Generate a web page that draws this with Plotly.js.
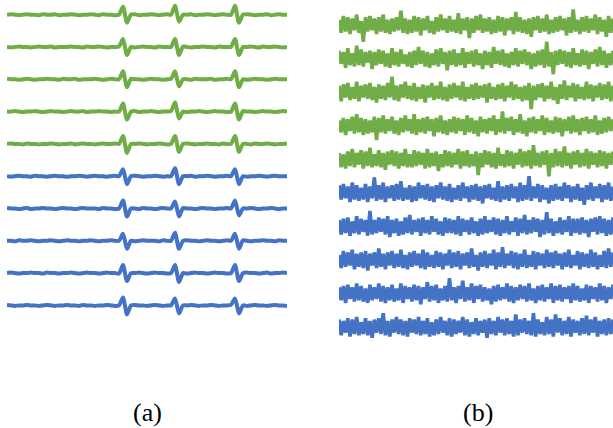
<!DOCTYPE html>
<html>
<head>
<meta charset="utf-8">
<script src="https://cdn.plot.ly/plotly-3.0.1.min.js"></script>
<style>html,body{margin:0;padding:0;background:#fff;}#chart{width:613px;height:428px;}</style>
</head>
<body>
<div id="chart"></div>
<script>
// Panel (a): 10 channels, green (first 5) and blue (last 5); values in px, positive = up
const gA1 = [0,.5,0,-.5,0,.5,0,0,-.5,.5,0,0,.5,-.5,0,0,.5,0,-.5,0,0,.5,0,-.5,.5,0,0,-.5,0, 8,-8, 0,.5,-.5,0,0,.5,0,-.5,0,.5,0, 9,-7, 0,0,.5,-.5,0,0,.5,0,-.5,0,.5,0,0, 9,-8, 0,.5,0,-.5,0,0,.5,-.5,0,.5,0,0];
const gA2 = [0,-.5,0,.5,0,0,-.5,0,.5,0,0,.5,-.5,0,0,0,.5,0,0,-.5,.5,0,0,.5,0,-.5,0,0,.5, 8,-8, 0,-.5,0,.5,0,0,-.5,.5,0,0,0, 8,-8, .5,0,-.5,0,0,.5,0,0,-.5,.5,0,0,0, 8,-8, 0,0,.5,0,-.5,.5,0,0,.5,0,-.5,0];
const gA3 = [.5,0,0,-.5,0,.5,0,-.5,0,0,.5,0,0,-.5,.5,0,0,.5,-.5,0,0,0,.5,0,-.5,0,.5,0,0, 8,-8, .5,0,0,-.5,0,.5,0,0,-.5,0,.5, 8,-7, 0,0,-.5,.5,0,0,0,.5,-.5,0,0,.5,0, 8,-8, 0,-.5,0,.5,0,0,-.5,0,.5,0,0,0];
const gA4 = [0,0,.5,0,-.5,0,0,.5,0,-.5,0,.5,0,0,-.5,0,.5,0,0,.5,-.5,0,0,.5,0,0,-.5,0,0, 8,-8, 0,.5,-.5,0,0,.5,0,-.5,0,0,.5, 9,-7, 0,-.5,0,0,.5,0,-.5,0,.5,0,0,-.5,0, 8,-8, .5,0,0,-.5,0,.5,0,0,-.5,0,.5,0];
const gA5 = [0,.5,0,0,-.5,.5,0,0,-.5,0,0,.5,0,-.5,0,0,.5,-.5,0,.5,0,0,-.5,0,.5,0,0,.5,0, 8,-9, 0,0,.5,0,-.5,0,0,.5,0,-.5,0, 8,-8, 0,.5,0,-.5,0,0,.5,0,0,-.5,.5,0,0, 8,-8, 0,0,-.5,.5,0,0,.5,0,-.5,0,0,.5];
const bA1 = [0,-.5,0,.5,0,0,-.5,.5,0,0,-.5,0,.5,0,0,-.5,0,0,.5,0,-.5,0,.5,0,0,-.5,0,.5,0, 7,-8, 0,.5,0,-.5,0,0,.5,0,-.5,0,0, 8,-8, 0,0,.5,-.5,0,0,.5,0,-.5,0,0,.5,0, 7,-8, 0,-.5,0,0,.5,0,-.5,0,.5,0,0,0];
const bA2 = [.5,0,0,-.5,0,.5,-.5,0,0,.5,0,0,-.5,0,.5,0,0,-.5,0,.5,0,0,0,-.5,.5,0,0,-.5,0, 8,-8, 0,0,-.5,.5,0,0,-.5,0,.5,0,0, 7,-8, .5,0,0,-.5,0,.5,0,0,-.5,0,0,.5,0, 8,-7, 0,0,.5,0,-.5,0,0,.5,0,-.5,0,0];
const bA3 = [0,0,-.5,.5,0,0,.5,0,-.5,0,0,.5,0,-.5,0,.5,0,0,-.5,0,0,.5,0,-.5,0,0,.5,0,0, 7,-8, 0,-.5,0,.5,0,0,0,-.5,.5,0,0, 8,-8, 0,.5,0,0,-.5,0,.5,0,0,-.5,0,.5,0, 7,-8, .5,0,-.5,0,0,.5,0,0,-.5,.5,0,0];
const bA4 = [0,.5,0,-.5,0,0,.5,0,0,-.5,.5,0,0,-.5,0,0,.5,0,-.5,0,.5,0,0,-.5,0,.5,0,0,-.5, 8,-8, 0,0,.5,0,-.5,0,.5,0,0,-.5,0, 8,-9, 0,-.5,0,.5,0,0,-.5,0,.5,0,0,-.5,0, 8,-8, 0,.5,0,0,-.5,0,.5,-.5,0,0,.5,0];
const bA5 = [.5,0,-.5,0,0,.5,0,0,-.5,0,.5,0,-.5,0,0,.5,0,0,-.5,.5,0,0,-.5,0,0,.5,0,-.5,0, 8,-9, 0,.5,0,0,-.5,0,.5,0,-.5,0,0, 7,-8, 0,0,.5,0,-.5,0,0,.5,0,-.5,0,0,.5, 7,-8, 0,-.5,0,.5,0,0,-.5,0,.5,0,0,-.5];

// Panel (b): 10 noisy channels
const gB1 = [4,-6,7,-5,6,-7,5,-4,8,-6,3,-13,6,-5,7,-4,5,-7,6,-5,8,-6,4,-7,5,
 -5,6,-4,11,-6,5,-7,4,-6,7,-5,6,-8,5,-4,7,-6,3,-7,6,-5,8,-4,5,-6,
 7,-5,4,-6,9,-7,5,-4,6,-10,5,-6,7,-4,8,-6,5,-5,6,-7,4,-6,7,-5,6,
 -8,5,-4,6,-7,10,-5,6,-6,4,-7,5,-9,6,-4,7,-6,5,-5,8,-7,4,-6,6,-5,
 7,-4,5,-8,6,-6,12,-5,4,-7,6,-5,7,-6,5,-4,8,-7,6,-5,4,-9,7,-6,5];
const gB2 = [6,-4,5,-7,8,-5,4,-6,10,-5,7,-6,5,-3,6,-8,5,-5,7,-4,6,-6,4,-7,8,
 -5,5,-6,7,-4,3,-6,5,-7,6,-5,9,-4,6,-6,5,-7,4,-5,7,-6,8,-4,5,-9,
 6,-5,7,-6,4,-5,8,-7,5,-4,6,-6,7,-5,4,-8,6,-5,5,-7,9,-4,6,-5,7,
 -6,4,-7,5,-5,8,-6,6,-4,7,-5,5,-8,4,-6,6,-5,7,-7,13,-6,5,-12,6,-5,
 7,-4,6,-6,5,-7,8,-5,4,-6,7,-5,6,-8,5,-4,7,-6,9,-5,6,-7,4,-5,6];
const gB3 = [5,-7,6,-4,7,-6,4,-5,8,-7,5,-4,6,-5,7,-6,4,-8,6,-5,5,-6,7,-4,12,
 -6,5,-7,6,-4,8,-5,5,-6,7,-7,4,-5,6,-8,5,-4,7,-6,5,-5,8,-6,4,-7,
 6,-5,7,-4,5,-6,8,-7,4,-5,6,-6,7,-5,5,-4,6,-8,7,-5,4,-6,6,-5,7,
 -7,5,-4,8,-6,6,-5,4,-7,5,-6,7,-13,5,-6,6,-4,7,-7,5,-5,8,-6,4,-9,
 6,-5,9,-6,5,-4,7,-7,6,-5,4,-6,8,-5,6,-7,5,-4,7,-6,6,-5,8,-7,5];
const gB4 = [4,-5,6,-7,5,-4,7,-6,9,-5,6,-7,5,-6,4,-5,7,-11,6,-5,8,-6,5,-4,7,
 -6,4,-7,6,-5,8,-4,5,-6,9,-7,5,-5,6,-6,7,-4,5,-8,6,-5,8,-6,4,-7,
 5,-5,7,-6,6,-4,5,-7,8,-5,6,-6,4,-8,7,-5,5,-6,6,-4,8,-7,5,-5,11,
 -6,6,-4,7,-7,5,-5,9,-6,4,-8,6,-5,7,-6,5,-4,8,-7,6,-5,4,-6,7,-5,
 6,-8,5,-4,7,-6,8,-5,5,-7,6,-4,7,-6,5,-5,8,-7,4,-6,6,-5,7,-4,5];
const gB5 = [5,-6,4,-7,6,-5,8,-6,5,-4,7,-7,6,-5,9,-6,4,-5,7,-6,5,-8,6,-4,7,
 -5,6,-7,5,-5,8,-6,4,-6,7,-5,6,-4,5,-7,8,-6,5,-5,6,-9,4,-6,7,-5,
 6,-6,5,-4,8,-7,6,-5,7,-6,4,-5,6,-12,5,-6,7,-4,6,-6,5,-7,9,-5,4,
 -6,7,-5,6,-7,5,-4,8,-6,6,-5,7,-7,11,-5,5,-6,6,-4,7,-13,5,-6,8,-5,
 6,-6,10,-5,5,-7,6,-4,7,-6,5,-5,8,-7,6,-4,5,-6,7,-5,6,-7,5,-4,6];
const bB1 = [6,-5,7,-4,5,-7,8,-5,6,-6,4,-5,7,-7,5,-4,12,-6,6,-5,8,-7,5,-4,6,
 -6,7,-5,9,-6,4,-5,6,-7,5,-6,8,-4,6,-5,7,-6,5,-7,6,-4,8,-5,5,-6,
 7,-7,4,-5,6,-6,8,-4,5,-7,6,-5,7,-6,5,-8,6,-4,7,-5,4,-6,9,-7,5,
 -5,6,-6,7,-4,5,-7,8,-6,6,-5,13,-6,5,-4,7,-7,6,-5,4,-8,6,-6,7,-5,
 5,-6,8,-4,6,-7,5,-5,7,-6,4,-9,6,-5,8,-6,5,-4,7,-7,6,-5,8,-6,5];
const bB2 = [5,-6,6,-5,7,-7,4,-5,8,-6,6,-4,5,-7,12,-6,5,-5,7,-4,6,-6,8,-8,5,
 -5,6,-7,4,-6,7,-5,9,-6,5,-4,6,-7,7,-5,5,-6,8,-4,6,-6,4,-7,7,-5,
 6,-5,5,-6,8,-7,6,-4,5,-6,7,-5,4,-7,6,-6,8,-5,5,-4,7,-6,6,-7,5,
 -5,8,-6,4,-4,7,-7,6,-5,9,-6,5,-5,7,-4,6,-8,5,-6,11,-5,6,-7,4,-5,
 7,-6,5,-4,8,-7,6,-5,6,-6,7,-5,5,-8,6,-4,7,-6,8,-5,6,-7,5,-6,7];
const bB3 = [4,-6,7,-5,6,-4,8,-7,5,-5,6,-6,7,-8,5,-4,6,-6,9,-5,5,-7,6,-4,7,
 -6,5,-5,8,-6,4,-7,6,-5,7,-4,5,-6,8,-7,6,-5,4,-6,7,-5,6,-7,5,-4,
 8,-6,6,-5,7,-7,5,-4,6,-6,9,-5,4,-8,6,-5,7,-6,5,-4,8,-7,6,-5,10,
 -6,5,-4,7,-6,6,-7,5,-5,8,-6,4,-5,7,-7,6,-4,5,-6,8,-5,6,-6,7,-4,
 5,-7,6,-5,8,-6,4,-4,7,-7,6,-5,5,-6,8,-5,6,-7,4,-5,7,-6,9,-5,6];
const bB4 = [5,-5,6,-7,7,-4,5,-6,8,-5,6,-6,4,-7,7,-5,5,-4,8,-6,6,-7,5,-5,7,
 -6,4,-5,8,-7,6,-4,5,-6,7,-5,6,-8,5,-4,9,-6,6,-5,7,-7,4,-5,6,-6,
 12,-5,5,-7,6,-4,10,-6,5,-5,8,-7,6,-4,7,-6,5,-5,4,-8,6,-6,7,-5,5,
 -4,8,-6,6,-7,5,-5,7,-4,6,-6,8,-5,4,-7,6,-5,7,-6,5,-4,8,-7,6,-5,
 7,-6,5,-4,6,-7,8,-5,6,-6,4,-5,7,-7,6,-4,5,-6,8,-5,6,-7,5,-4,7];
const bB5 = [6,-6,5,-4,7,-7,6,-5,8,-6,4,-5,7,-6,5,-8,6,-4,7,-5,11,-6,5,-7,6,
 -4,8,-5,6,-6,5,-7,7,-4,6,-5,8,-6,5,-5,7,-7,4,-6,6,-5,8,-4,5,-6,
 7,-7,6,-5,5,-4,8,-6,6,-7,4,-5,7,-6,5,-4,6,-8,7,-5,5,-6,8,-4,6,
 -6,7,-5,5,-7,10,-6,6,-4,7,-5,5,-6,11,-7,6,-5,4,-6,8,-5,6,-7,10,-4,
 7,-6,5,-5,8,-7,6,-4,5,-6,7,-5,9,-6,6,-4,8,-7,5,-5,6,-6,7,-5,6];

const panelLabels = ['(a)', '(b)'];
const seriesA = [gA1, gA2, gA3, gA4, gA5, bA1, bA2, bA3, bA4, bA5];
const seriesB = [gB1, gB2, gB3, gB4, gB5, bB1, bB2, bB3, bB4, bB5];

const GREEN = '#70AD47', BLUE = '#4472C4';
const W = 613, H = 428;
const KB = 1.3; // px per unit on the panel (b) vertical scale
const traces = [];
seriesA.forEach((vals, i) => {
  const center = 14.7 + i * 32.3;
  traces.push({
    x: vals.map((_, k) => k), y: vals.map(v => -center + v),
    xaxis: 'x', yaxis: 'y', mode: 'lines', hoverinfo: 'skip',
    line: {color: i < 5 ? GREEN : BLUE, width: 4, shape: 'spline', smoothing: 0.7, simplify: false}
  });
});
seriesB.forEach((vals, i) => {
  const center = 25 + i * 33.6;
  traces.push({
    x: vals.map((_, k) => k), y: vals.map(v => -center / KB + v),
    xaxis: 'x2', yaxis: 'y2', mode: 'lines', hoverinfo: 'skip',
    line: {color: i < 5 ? GREEN : BLUE, width: 3.6, simplify: false}
  });
});

const hidden = {visible: false, fixedrange: true};
const layout = {
  width: W, height: H,
  margin: {l: 0, r: 0, t: 0, b: 0},
  paper_bgcolor: '#fff', plot_bgcolor: 'rgba(0,0,0,0)',
  showlegend: false,
  xaxis: Object.assign({domain: [7 / W, 287 / W], range: [0, 70], anchor: 'y'}, hidden),
  xaxis2: Object.assign({domain: [339 / W, 1], range: [0, 124], anchor: 'y2'}, hidden),
  yaxis: Object.assign({domain: [0, 1], range: [-H, 0], anchor: 'x'}, hidden),
  yaxis2: Object.assign({domain: [0, 1], range: [-H / KB, 0], anchor: 'x2'}, hidden),
  annotations: [
    {text: panelLabels[0], xref: 'paper', yref: 'paper', x: 147 / W, y: (H - 412) / H,
     xanchor: 'center', yanchor: 'middle', showarrow: false,
     font: {family: 'Liberation Serif, serif', size: 26, color: '#000'}},
    {text: panelLabels[1], xref: 'paper', yref: 'paper', x: 478 / W, y: (H - 412) / H,
     xanchor: 'center', yanchor: 'middle', showarrow: false,
     font: {family: 'Liberation Serif, serif', size: 26, color: '#000'}}
  ]
};
Plotly.newPlot('chart', traces, layout, {staticPlot: true, displayModeBar: false});
</script>
</body>
</html>
